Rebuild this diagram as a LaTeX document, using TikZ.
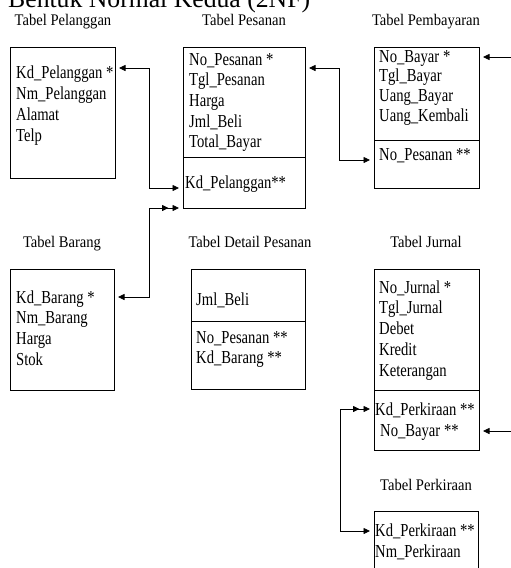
\documentclass[tikz,border=0pt]{standalone}
\usepackage{fontspec}
\setmainfont{Liberation Serif}
\usetikzlibrary{arrows.meta,positioning}

\newcommand{\fld}[1]{\scalebox{0.8}[1]{#1}}
\newcommand{\jdl}[1]{\scalebox{0.9}[1]{#1}}

\begin{document}
\begin{tikzpicture}[x=1pt,y=-1pt,
    tabel/.style={draw,line width=0.8pt,inner sep=0pt,outer sep=0pt,anchor=north west},
    judul/.style={font=\fontsize{16.2}{18}\selectfont,inner sep=0pt,anchor=base},
    isi/.style={font=\fontsize{18.3}{20}\selectfont,inner sep=0pt,anchor=base west},
    hub/.style={line width=0.8pt},
    >={Triangle[length=6.5pt,width=6pt,sep=4pt]}]
  \useasboundingbox (0,0) rectangle (511,568);

  \node[font=\fontsize{25.7}{30}\selectfont,inner sep=0pt,anchor=base west] (judulUtama) at (8,7) {Bentuk Normal Kedua (2NF)};

  % judul tabel
  \node[judul] (jPlg) at (63,25) {\jdl{Tabel Pelanggan}};
  \node[judul] (jPsn) at (244,25) {\jdl{Tabel Pesanan}};
  \node[judul] (jPby) at (426,25) {\jdl{Tabel Pembayaran}};
  \node[judul] (jBrg) at (62,247) {\jdl{Tabel Barang}};
  \node[judul] (jDtl) at (250,247) {\jdl{Tabel Detail Pesanan}};
  \node[judul] (jJrn) at (426,247) {\jdl{Tabel Jurnal}};
  \node[judul] (jPrk) at (426,490) {\jdl{Tabel Perkiraan}};

  % kotak tabel
  \node[tabel,minimum width=105pt,minimum height=131pt] (plg) at (10,47) {};
  \node[tabel,minimum width=122pt,minimum height=110pt] (psnA) at (183,47) {};
  \node[tabel,minimum width=122pt,minimum height=51pt,below=0pt of psnA] (psnB) {};
  \node[tabel,minimum width=105pt,minimum height=93pt] (pbyA) at (374,47) {};
  \node[tabel,minimum width=105pt,minimum height=48pt,below=0pt of pbyA] (pbyB) {};
  \node[tabel,minimum width=104pt,minimum height=121pt] (brg) at (10,269) {};
  \node[tabel,minimum width=114pt,minimum height=52pt] (dtlA) at (191,269) {};
  \node[tabel,minimum width=114pt,minimum height=68pt,below=0pt of dtlA] (dtlB) {};
  \node[tabel,minimum width=105pt,minimum height=121pt] (jrnA) at (374,269) {};
  \node[tabel,minimum width=105pt,minimum height=60pt,below=0pt of jrnA] (jrnB) {};
  \node[tabel,minimum width=104pt,minimum height=70pt] (prk) at (374,511) {};

  % isi tabel
  \foreach \f [count=\i from 0] in {Kd\_Pelanggan *,Nm\_Pelanggan,Alamat,Telp}
    \node[isi] (plg-\i) at (16,78+21*\i) {\fld{\f}};
  \foreach \f [count=\i from 0] in {No\_Pesanan *,Tgl\_Pesanan,Harga,Jml\_Beli,Total\_Bayar}
    \node[isi] (psn-\i) at (189,65+20.7*\i) {\fld{\f}};
  \node[isi] (psnFk) at (185,188) {\fld{Kd\_Pelanggan**}};
  \foreach \f [count=\i from 0] in {No\_Bayar *,Tgl\_Bayar,Uang\_Bayar,Uang\_Kembali}
    \node[isi] (pby-\i) at (379,62+19.7*\i) {\fld{\f}};
  \node[isi] (pbyFk) at (379,160) {\fld{No\_Pesanan **}};
  \foreach \f [count=\i from 0] in {Kd\_Barang *,Nm\_Barang,Harga,Stok}
    \node[isi] (brg-\i) at (16,303+20.7*\i) {\fld{\f}};
  \node[isi] (dtl-0) at (196,305) {\fld{Jml\_Beli}};
  \foreach \f [count=\i from 0] in {No\_Pesanan **,Kd\_Barang **}
    \node[isi] (dtlFk-\i) at (196,343+20*\i) {\fld{\f}};
  \foreach \f [count=\i from 0] in {No\_Jurnal *,Tgl\_Jurnal,Debet,Kredit,Keterangan}
    \node[isi] (jrn-\i) at (379,293+20.75*\i) {\fld{\f}};
  \node[isi] (jrnFk-0) at (375,415) {\fld{Kd\_Perkiraan **}};
  \node[isi] (jrnFk-1) at (380,436) {\fld{No\_Bayar **}};
  \node[isi] (prk-0) at (375,536) {\fld{Kd\_Perkiraan **}};
  \node[isi] (prk-1) at (375,557) {\fld{Nm\_Perkiraan}};

  % relasi
  \draw[hub,<->] ([yshift=-21pt]plg.north east) -- ++(34,0) |- ([yshift=-31pt]psnB.north west);
  \draw[hub,<->>] ([yshift=-28pt]brg.north east) -- ++(35,0) |- (psnB.south west);
  \draw[hub,<->] ([yshift=-21pt]psnA.north east) -- ++(34,0) |- ([yshift=-20pt]pbyB.north west);
  \draw[hub,<->] ([yshift=-10pt]pbyA.north east) -- ++(45,0) |- ([yshift=-41pt]jrnB.north east);
  \draw[hub,<<->] ([yshift=-19pt]jrnB.north west) -- ++(-34,0) |- ([yshift=-20pt]prk.north west);
\end{tikzpicture}
\end{document}
